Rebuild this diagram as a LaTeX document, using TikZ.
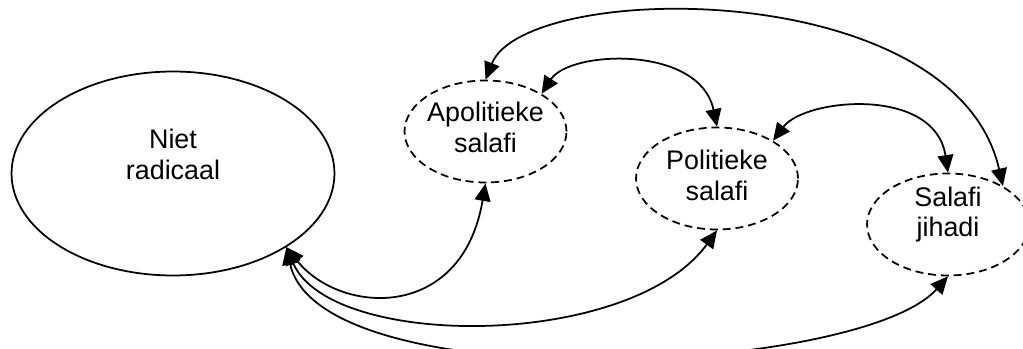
\documentclass[tikz,border=0pt]{standalone}
\usepackage{fontspec}
\setmainfont{Liberation Sans}
\usetikzlibrary{shapes,arrows.meta}

\begin{document}
\begin{tikzpicture}
[x=0.02cm,y=-0.02cm]
\tikzset{
	radical/.style = {ellipse, draw, line width=1pt, minimum width=6.46cm, minimum height=4.08cm, inner sep=0},
	stream/.style = {ellipse, draw, line width=1pt, dash pattern=on 4.5pt off 2.8pt, minimum width=3.24cm, minimum height=2.04cm, inner sep=0, align=center},
	flow/.style = {line width=1pt, {Triangle[length=10pt,width=9pt]}-{Triangle[length=10pt,width=9pt]}},
	every node/.style = {font=\fontsize{15.3}{17.5}\selectfont}
}
\useasboundingbox (0,0) rectangle (1023,348);

% groepen
\node(niet) [radical, label={[align=center, yshift=0.38cm]center:Niet\\radicaal}] at (173,173.5) {};
\node(apo) [stream, label={[align=center, yshift=0.08cm]center:Apolitieke\\salafi}] at (485.5,131.5) {};
\node(pol) [stream, label={[align=center, yshift=0.06cm]center:Politieke\\salafi}] at (717,178.5) {};
\node(jihad) [stream, label={[align=center, yshift=0.2cm]center:Salafi\\jihadi}] at (948,224.5) {};

% overgangen
\draw [flow] (niet.-33) .. controls (340,315) and (462,322) .. (apo.south);
\draw [flow] (niet.-33) .. controls (330,350) and (630,350) .. (pol.south);
\draw [flow] (niet.-33) .. controls (320,400) and (860,375) .. (jihad.south);
\draw [flow] (apo.north) .. controls (525,-20) and (955,-25) .. (jihad.35);
\draw [flow] (apo.34) .. controls (570,50) and (700,45) .. (pol.north);
\draw [flow] (pol.34) .. controls (805,98) and (935,86) .. (jihad.north);
\end{tikzpicture}
\end{document}
